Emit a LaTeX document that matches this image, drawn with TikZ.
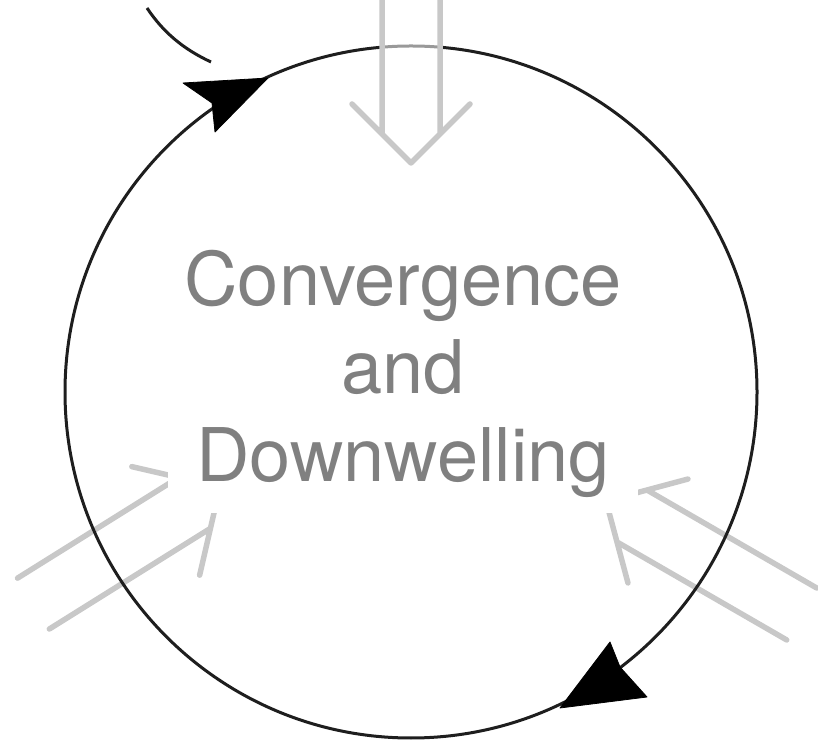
\documentclass[tikz,border=0pt]{standalone}
\usepackage{fontspec}
\setmainfont{TeX Gyre Heros}
\definecolor{arrowgrey}{RGB}{200,200,200}
\definecolor{textgrey}{RGB}{128,128,128}
\definecolor{ink}{RGB}{30,30,30}
\tikzset{
  hollow/.style={draw=arrowgrey, line width=5.5pt, line cap=round, line join=round},
  ring/.style={draw=ink, line width=3pt},
  headfill/.style={fill=black, draw=black, line width=0.8pt, line join=round},
  titletext/.style={text=textgrey, font=\fontsize{74}{88}\selectfont, align=center,
    inner sep=0pt, fill=white, minimum width=470pt, minimum height=278pt},
}
\newcommand{\hollowarrow}[5]{%
  \begin{scope}[shift={(#1,#2)}, rotate=#3]
    \draw[hollow] (-#4,30) -- (-30,30) (-#4,-30) -- (-30,-30) (-#5,#5) -- (0,0) -- (-#5,-#5);
  \end{scope}}
\begin{document}
\begin{tikzpicture}[x=1pt, y=1pt]
  \useasboundingbox (0,0) rectangle (818,746);
  \clip (0,0) rectangle (818,746);
  % grey hollow arrows (lower left and lower right)
  \hollowarrow{220}{259}{32}{220}{64}
  \hollowarrow{606}{245}{150}{226}{60}
  % main circle
  \coordinate (c) at (411,354);
  \draw[ring] (c) circle[radius=346];
  % top grey arrow, half-covering the circle
  \begin{scope}[shift={(411,583)}, rotate=-90]
    \fill[white, opacity=0.55] (-180,30) -- (-30,30) -- (0,0) -- (-30,-30) -- (-180,-30) -- cycle;
    \draw[hollow] (-180,29) -- (-30,29) (-180,-29) -- (-30,-29) (-59,59) -- (0,0) -- (-59,-59);
  \end{scope}
  % neighbouring arc at top left
  \coordinate (arcA) at (147,738);
  \coordinate (arcB) at (211,684);
  \draw[ring] (arcA) .. controls (163,714) and (183,697) .. (arcB);
  % black arrowheads on the circle
  \coordinate (tipA) at (268,668);
  \coordinate (tipB) at (560,38);
  \filldraw[headfill] (tipA) -- (183,663) -- (212,643) -- (215,614) -- cycle;
  \filldraw[headfill] (tipB) -- (647,49) -- (620,79) -- (610,104) -- cycle;
  % title with white backing
  \node[titletext] (title) at (403,372) {Convergence\\and\\Downwelling};
\end{tikzpicture}
\end{document}
